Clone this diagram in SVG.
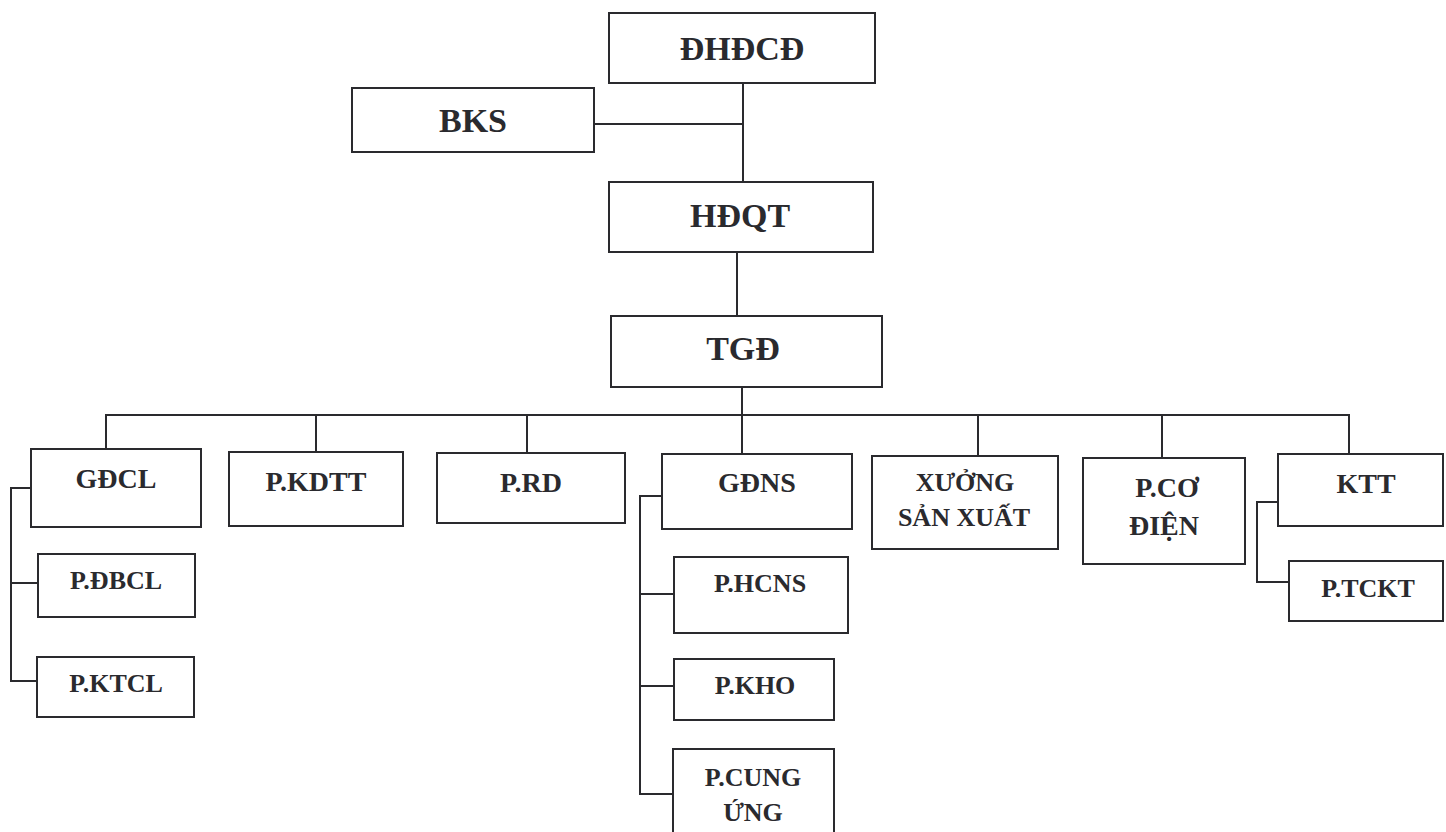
<svg xmlns="http://www.w3.org/2000/svg" width="1446" height="832" viewBox="0 0 1446 832">
<style>
.box{fill:#fff;stroke:#2a2a2e;stroke-width:2}
.ln{fill:none;stroke:#2a2a2e;stroke-width:2}
text{font-family:"Liberation Serif","Times New Roman",serif;font-weight:bold;fill:#2a2a2e;text-anchor:middle}
.t1{font-size:34px}
.t2{font-size:28px}
.t3{font-size:26px}
.t4{font-size:26px}
</style>
<rect width="1446" height="832" fill="#fff"/>
<g id="connectors">
<polyline class="ln" points="743,83 743,182"/>
<polyline class="ln" points="594,124 743,124"/>
<polyline class="ln" points="737,252 737,316"/>
<polyline class="ln" points="742,387 742,415"/>
<polyline class="ln" points="106,449 106,415 1349,415 1349,454"/>
<polyline class="ln" points="316,415 316,452"/>
<polyline class="ln" points="527,415 527,453"/>
<polyline class="ln" points="742,415 742,454"/>
<polyline class="ln" points="978,415 978,456"/>
<polyline class="ln" points="1162,415 1162,458"/>
<polyline class="ln" points="31,488 11,488 11,681 37,681"/>
<polyline class="ln" points="11,583 38,583"/>
<polyline class="ln" points="662,496 640,496 640,794 673,794"/>
<polyline class="ln" points="640,594 674,594"/>
<polyline class="ln" points="640,686 674,686"/>
<polyline class="ln" points="1278,502 1257,502 1257,582 1289,582"/>
</g>
<g id="n-dhdcd"><rect class="box" x="609" y="13" width="266" height="70"/><text class="t1" x="742" y="60">ĐHĐCĐ</text></g>
<g id="n-bks"><rect class="box" x="352" y="88" width="242" height="64"/><text class="t1" x="473" y="132">BKS</text></g>
<g id="n-hdqt"><rect class="box" x="609" y="182" width="264" height="70"/><text class="t1" x="740" y="227">HĐQT</text></g>
<g id="n-tgd"><rect class="box" x="611" y="316" width="271" height="71"/><text class="t1" x="743" y="360">TGĐ</text></g>
<g id="n-gdcl"><rect class="box" x="31" y="449" width="170" height="78"/><text class="t2" x="116" y="488">GĐCL</text></g>
<g id="n-pdbcl"><rect class="box" x="38" y="554" width="157" height="63"/><text class="t3" x="116" y="589">P.ĐBCL</text></g>
<g id="n-pktcl"><rect class="box" x="37" y="657" width="157" height="60"/><text class="t3" x="116" y="692">P.KTCL</text></g>
<g id="n-pkdtt"><rect class="box" x="229" y="452" width="174" height="74"/><text class="t2" x="316" y="491">P.KDTT</text></g>
<g id="n-prd"><rect class="box" x="437" y="453" width="188" height="70"/><text class="t2" x="531" y="492">P.RD</text></g>
<g id="n-gdns"><rect class="box" x="662" y="454" width="190" height="75"/><text class="t2" x="757" y="492">GĐNS</text></g>
<g id="n-phcns"><rect class="box" x="674" y="557" width="174" height="76"/><text class="t3" x="760" y="592">P.HCNS</text></g>
<g id="n-pkho"><rect class="box" x="674" y="659" width="160" height="61"/><text class="t3" x="755" y="694">P.KHO</text></g>
<g id="n-pcungung"><rect class="box" x="673" y="749" width="161" height="90"/><text class="t3" x="753" y="786">P.CUNG</text><text class="t3" x="753" y="821">ỨNG</text></g>
<g id="n-xuong"><rect class="box" x="872" y="456" width="186" height="93"/><text class="t4" x="965" y="491">XƯỞNG</text><text class="t4" x="964" y="526">SẢN XUẤT</text></g>
<g id="n-pcodien"><rect class="box" x="1083" y="458" width="162" height="106"/><text class="t2" x="1167" y="497">P.CƠ</text><text class="t2" x="1164" y="535">ĐIỆN</text></g>
<g id="n-ktt"><rect class="box" x="1278" y="454" width="165" height="72"/><text class="t2" x="1366" y="493">KTT</text></g>
<g id="n-ptckt"><rect class="box" x="1289" y="561" width="154" height="60"/><text class="t3" x="1368" y="597">P.TCKT</text></g>
</svg>
